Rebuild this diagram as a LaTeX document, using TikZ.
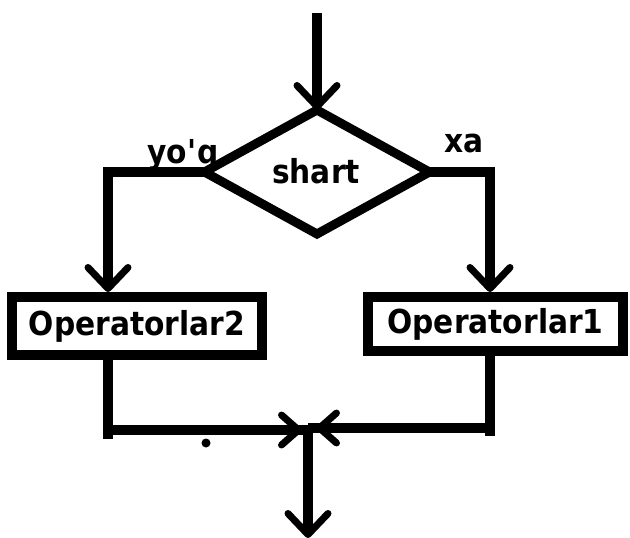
\documentclass[tikz,border=0pt]{standalone}
\usepackage{fontspec}
\newfontfamily\lblfont{DejaVu Sans}[FakeStretch=0.9]
\usetikzlibrary{shapes.geometric,arrows.meta}

\begin{document}
\begin{tikzpicture}[x=1pt,y=-1pt,
  every node/.style={font=\lblfont\bfseries\fontsize{33}{36}\selectfont},
  conn/.style={line width=9.5pt,line join=miter},
  barb/.style={-{Straight Barb[length=21pt,width=40pt,line width=7pt,round]}},
  smallbarb/.style={-{Straight Barb[length=17pt,width=30pt,line width=7pt,round]}},
  opbox/.style={draw,line width=10pt,rectangle,inner sep=0pt},
  cond/.style={draw,line width=9pt,diamond,inner sep=0pt,outer sep=0pt,
    minimum width=225pt,minimum height=124pt}]
  \useasboundingbox (0,0) rectangle (630,538);

  % decision and the two branches
  \node[cond] (d) at (317,172) {};
  \node (dl) at (316,171) {shart};
  \node[opbox,minimum width=250pt,minimum height=58pt] (b2) at (137,326) {Operatorlar2};
  \node[opbox,minimum width=255pt,minimum height=54pt] (b1) at (495.5,324) {Operatorlar1};

  % branch labels
  \node[anchor=base] (no)  at (183,163) {yo\textquotesingle q};
  \node[anchor=base] (yes) at (464,152) {xa};

  % bend points
  \coordinate (top) at (317,13);
  \coordinate (lx)  at (108,172);
  \coordinate (rx)  at (490,172);
  \coordinate (lb)  at (108,430);
  \coordinate (lbs) at (108,439);
  \coordinate (rb)  at (490,428);
  \coordinate (rbs) at (490,436);
  \coordinate (jl)  at (302,430);
  \coordinate (jr)  at (316,428);
  \coordinate (js)  at (308,429);
  \coordinate (end) at (308,538);

  % entry
  \draw[conn,barb] (top) -- (d.north);
  % branches into the operator boxes
  \draw[conn,barb] (d.west) -- (lx) -- (lx |- b2.north);
  \draw[conn,barb] (d.east) -- (rx) -- (rx |- b1.north);
  % outputs of the boxes joining below
  \draw[conn] (b2.south -| lx) -- (lbs);
  \draw[conn] ([xshift=-4.75pt]lb) -- (lb -| js);
  \draw[conn,smallbarb] ([xshift=-4.75pt]lb) -- (jl);
  \draw[conn] (b1.south -| rx) -- (rbs);
  \draw[conn] ([xshift=4.75pt]rb) -- (rb -| js);
  \draw[conn,smallbarb] ([xshift=4.75pt]rb) -- (jr);
  % exit
  \draw[conn,barb] (js) -- (end);

  % stray dot
  \fill (206,443) circle (4.5pt);
\end{tikzpicture}
\end{document}
